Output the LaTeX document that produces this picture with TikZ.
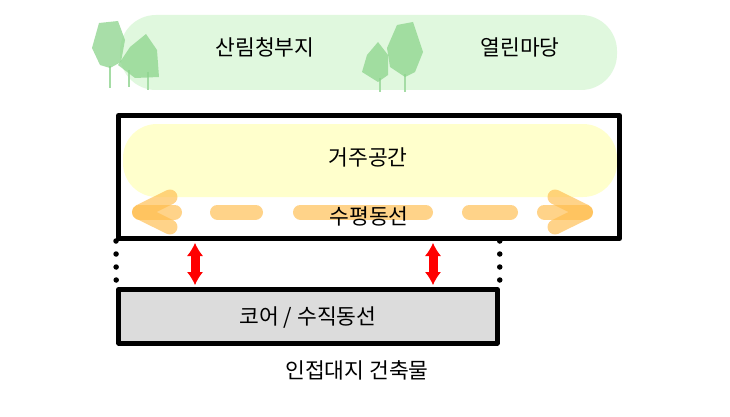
\documentclass[tikz,border=0pt]{standalone}
\usepackage{fontspec}
\setmainfont{Noto Sans CJK KR}
\usetikzlibrary{arrows.meta,calc}
\definecolor{blobgreen}{RGB}{224,248,222}
\definecolor{treegreen}{RGB}{140,212,140}
\definecolor{trunkgreen}{RGB}{165,220,165}
\definecolor{blobyellow}{RGB}{255,255,204}
\definecolor{dashorange}{RGB}{255,188,75}
\definecolor{coregray}{RGB}{220,220,220}
\tikzset{
  lbl/.style={font=\fontsize{21.5}{25}\selectfont, inner sep=0pt},
  tree/.style={fill=treegreen, fill opacity=0.75},
  trunk/.style={draw=trunkgreen, line width=2.5pt},
  frame/.style={draw=black, line width=5pt, line join=round},
  flow/.style={draw=dashorange, line width=15pt, line cap=round, line join=round, draw opacity=0.65},
  vflow/.style={draw=red, line width=1pt, {Latex[length=13pt,width=16pt]}-{Latex[length=13pt,width=16pt]}, shorten <=2pt, shorten >=2pt},
  vshaft/.style={draw=red, line width=9pt, shorten <=11pt, shorten >=11pt},
  dots/.style={draw=black, line width=5.5pt, line cap=round, dash pattern=on 0pt off 13pt}
}
\begin{document}
\begin{tikzpicture}[x=1pt,y=-1pt]
\useasboundingbox[fill=white] (0,0) rectangle (730,417);
% green blob
\fill[blobgreen, rounded corners=36pt] (120,15) rectangle (617,90);
% trees left group
\draw[trunk] (110,66) -- (110,88);
\draw[trunk] (129,70) -- (129,87);
\draw[trunk] (148,72) -- (148,90);
\fill[tree] (99,23) -- (118,21) -- (125,40) -- (121,62) -- (110,68) -- (100,65) -- (92,48) -- cycle;
\fill[tree] (130,47) -- (146,34) -- (157,50) -- (159,77) -- (135,78) -- (118,65) -- cycle;
% trees middle group
\draw[trunk] (380,78) -- (380,92);
\draw[trunk] (405,74) -- (405,92);
\fill[tree] (378,42) -- (388,55) -- (388,75) -- (378,82) -- (362,72) -- (367,55) -- cycle;
\fill[tree] (397,25) -- (413,22) -- (423,52) -- (415,72) -- (405,77) -- (390,67) -- (387,48) -- cycle;
\node[lbl] (forest) at (265,47) {산림청부지};
\node[lbl] (yard) at (520,47) {열린마당};
% yellow blob
\fill[blobyellow, rounded corners=34pt] (123,124) rectangle (617,197);
% upper frame
\node[frame, minimum width=501pt, minimum height=123pt, inner sep=0pt] (upper) at (369,177) {};
\node[lbl] (living) at (368,157) {거주공간};
% horizontal flow
\draw[flow] (139.5,212) -- (174.5,212);
\draw[flow] (170,197) -- (139.5,212) -- (170,227);
\draw[flow] (217.5,212) -- (255.5,212);
\draw[flow] (300.5,212) -- (425.5,212);
\draw[flow] (469.5,212) -- (510.5,212);
\draw[flow] (544.5,212) -- (585.5,212);
\draw[flow] (555,197) -- (585.5,212) -- (555,227);
\node[lbl] (hflow) at (369,216) {수평동선};
% lower frame
\node[frame, fill=coregray, minimum width=378.5pt, minimum height=53.5pt, inner sep=0pt] (lower) at (308,316.25) {};
\node[lbl] (core) at (308,318) {코어 / 수직동선};
\node[lbl] (adj) at (357,370) {인접대지 건축물};
% dotted connectors
\coordinate (rtop) at (lower.north east |- upper.south);
\draw[dots] (upper.south west) -- (lower.north west);
\draw[dots] (rtop) -- (lower.north east);
% vertical flows
\coordinate (a1) at (195,0 |- upper.south);
\coordinate (b1) at (195,0 |- lower.north);
\coordinate (a2) at (433,0 |- upper.south);
\coordinate (b2) at (433,0 |- lower.north);
\draw[vshaft] (a1) -- (b1);
\draw[vflow] (a1) -- (b1);
\draw[vshaft] (a2) -- (b2);
\draw[vflow] (a2) -- (b2);
\end{tikzpicture}
\end{document}
